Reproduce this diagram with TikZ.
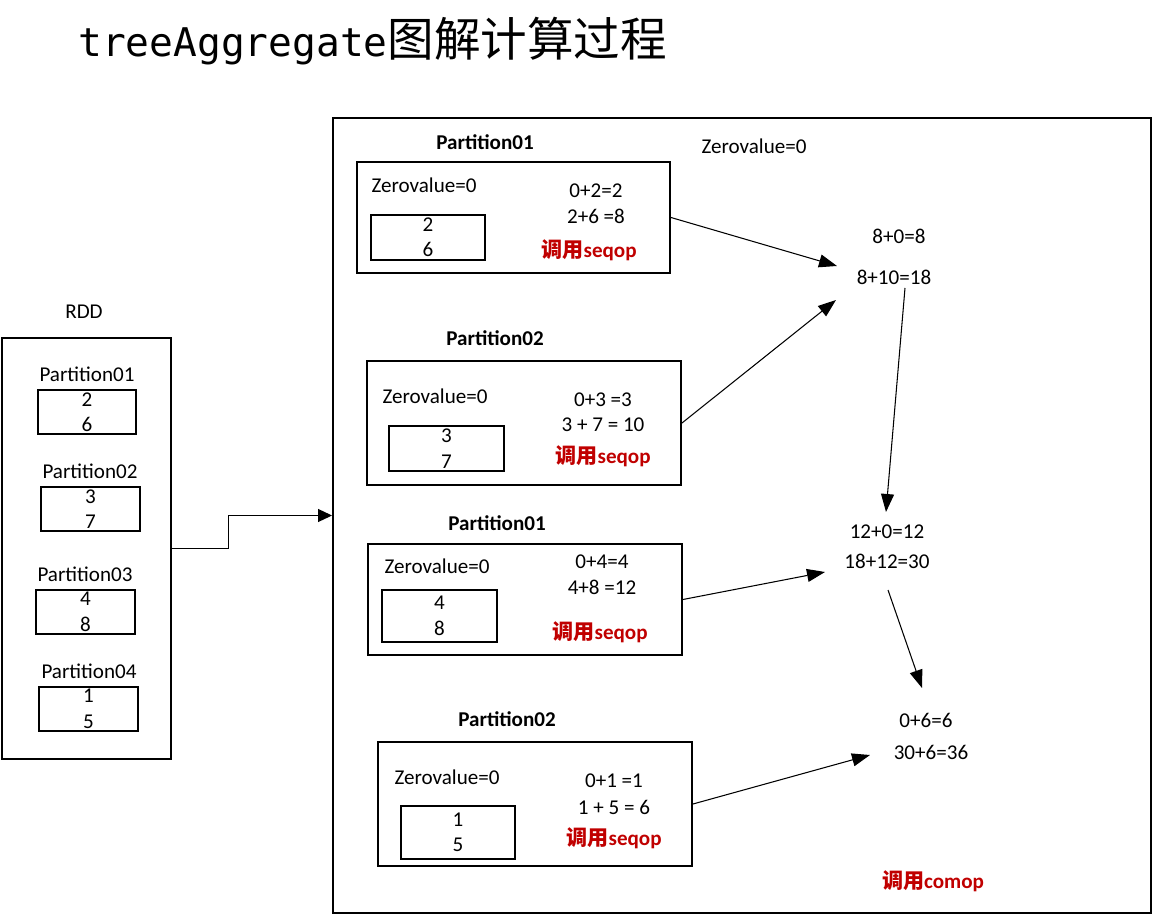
\documentclass[tikz,border=0pt]{standalone}
\usepackage{fontspec}
\setmainfont{Carlito}
\newfontfamily\cjk{Noto Sans CJK SC}
\newfontfamily\titlemono{DejaVu Sans Mono}
\usetikzlibrary{arrows.meta}
\definecolor{opred}{HTML}{C00000}
\tikzset{
  >={Triangle[length=3.6mm,width=2.6mm]},
  every node/.style={inner sep=0pt,font=\fontsize{12}{14.5}\selectfont},
  bx/.style 2 args={draw,line width=1.1pt,minimum width=#1*0.02cm,minimum height=#2*0.02cm,align=center},
  pt/.style={font=\fontsize{12}{14.5}\selectfont\bfseries},
  op/.style={text=opred,font=\fontsize{12}{14.5}\selectfont\bfseries},
  ar/.style={->,line width=0.6pt},
}
\begin{document}
\begin{tikzpicture}[x=0.02cm,y=-0.02cm]
\useasboundingbox (0,0) rectangle (1153,915);
% title
\node[anchor=base west] (title) at (78,57){{\titlemono\fontsize{22.5}{26}\selectfont treeAggregate}{\cjk\fontsize{26.5}{30}\selectfont 图解计算过程}};
% RDD on the left
\node (rdd-l) at (84,312){RDD};
\node[bx={169}{421}] (rdd) at (86.5,548.5){};
\node (r1-l) at (87,374){Partition01}; \node[bx={98}{44}] (r1) at (87,412){2\\6};
\node (r2-l) at (90,471){Partition02}; \node[bx={99}{44}] (r2) at (90.5,509){3\\7};
\node (r3-l) at (85,574){Partition03}; \node[bx={99}{44}] (r3) at (85.5,612){4\\8};
\node (r4-l) at (89,671){Partition04}; \node[bx={99}{44}] (r4) at (88.5,709){1\\5};
% computation frame
\node[bx={818}{795}] (big) at (742,515.5){};
\node (zv) at (754,146){Zerovalue=0};
% partition boxes
\node[pt] (pa-l) at (485,142){Partition01};
\node[bx={313}{111}] (pa) at (513.5,217.5){};
\node (pa-z) at (424,185){Zerovalue=0};
\node[bx={114}{45}] (pa-v) at (428,237.5){2\\6};
\node (pa-s1) at (596,191){0+2=2}; \node (pa-s2) at (596,216){2+6 =8};
\node[op] (pa-op) at (589,250){{\cjk 调用}seqop};
\node[pt] (pb-l) at (495,338){Partition02};
\node[bx={314}{124}] (pb) at (524,423){};
\node (pb-z) at (435,396){Zerovalue=0};
\node[bx={115}{45}] (pb-v) at (446.5,448.5){3\\7};
\node (pb-s1) at (603,400){0+3 =3}; \node (pb-s2) at (603,425){3 + 7 = 10};
\node[op] (pb-op) at (603,456){{\cjk 调用}seqop};
\node[pt] (pc-l) at (497,523){Partition01};
\node[bx={314}{111}] (pc) at (525,599.5){};
\node (pc-z) at (437,566){Zerovalue=0};
\node[bx={115}{52}] (pc-v) at (439.5,616){4\\8};
\node (pc-s1) at (602,562){0+4=4}; \node (pc-s2) at (602,587){4+8 =12};
\node[op] (pc-op) at (600,632){{\cjk 调用}seqop};
\node[pt] (pd-l) at (507,719){Partition02};
\node[bx={314}{124}] (pd) at (535,804){};
\node (pd-z) at (447,777){Zerovalue=0};
\node[bx={114}{53}] (pd-v) at (458,832.5){1\\5};
\node (pd-s1) at (614,781){0+1 =1}; \node (pd-s2) at (614,807){1 + 5 = 6};
\node[op] (pd-op) at (614,838){{\cjk 调用}seqop};
% combine results
\node (ca1) at (899,236){8+0=8}; \node (ca2) at (894,277){8+10=18};
\node (cb1) at (887,532){12+0=12}; \node (cb2) at (887,561){18+12=30};
\node (cc1) at (926,720){0+6=6}; \node (cc2) at (931,752){30+6=36};
\node[op] (cc-op) at (933,881){{\cjk 调用}comop};
\coordinate (ta) at (837,266); \coordinate (tb) at (836,300);
\coordinate (sa) at (905,288); \coordinate (tc) at (886,512);
\coordinate (td) at (825,572); \coordinate (sb) at (888,590);
\coordinate (te) at (922,688); \coordinate (tf) at (870,755);
% connectors
\draw[ar,-{Triangle[length=2.8mm,width=2.6mm]}] (rdd.east) -- ++(57,0) |- (big.west);
\draw[ar] (pa.east) -- (ta);
\draw[ar] (pb.east) -- (tb);
\draw[ar] (sa) -- (tc);
\draw[ar] (pc.east) -- (td);
\draw[ar] (sb) -- (te);
\draw[ar] (pd.east) -- (tf);
\end{tikzpicture}
\end{document}
